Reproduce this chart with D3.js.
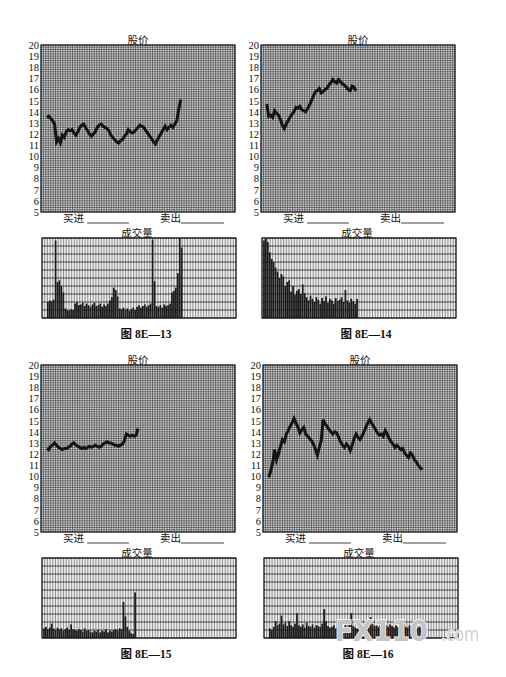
<!DOCTYPE html>
<html>
<head>
<meta charset="utf-8">
<script src="https://cdn.jsdelivr.net/npm/d3@7"></script>
<style>
  body { margin: 0; background: #fff; }
  svg { display: block; }
  .cn { font-family: "Noto Sans CJK SC", sans-serif; font-size: 10.5px; fill: #111; }
  .num { font-family: "Liberation Serif", "DejaVu Serif", serif; font-size: 10.5px; fill: #111; }
  .cap { font-family: "Liberation Serif", "Noto Sans CJK SC", serif; font-size: 11.5px; font-weight: bold; fill: #111; }
</style>
</head>
<body>
<svg id="page" width="506" height="677"></svg>
<script>
// ---- data ----
const figureNames = ["图 8E—13", "图 8E—14", "图 8E—15", "图 8E—16"];
const priceTitle = "股价";
const volumeTitle = "成交量";
const buyLabel = "买进";
const sellLabel = "卖出";
const priceTicks = [5, 6, 7, 8, 9, 10, 11, 12, 13, 14, 15, 16, 17, 18, 19, 20];

// day index where each series begins (the x axis runs 0..100 days across the box)
const priceStart13 = 3;
const price13 = [13.5, 13.6, 13.4, 13.2, 12.9, 11.3, 11.6, 11.2, 11.9, 11.7, 12.2, 12.4, 12.3, 12.4, 12.1,
  11.9, 12.2, 12.6, 12.8, 12.9, 12.6, 12.3, 12.0, 11.8, 12.0, 12.2, 12.6, 12.8, 12.9, 12.7,
  12.6, 12.5, 12.3, 11.9, 11.7, 11.5, 11.3, 11.2, 11.4, 11.5, 11.8, 12.0, 12.4, 12.2, 12.1,
  12.2, 12.4, 12.6, 12.8, 12.7, 12.6, 12.3, 12.1, 11.8, 11.6, 11.3, 11.1, 11.5, 11.8, 12.1,
  12.4, 12.7, 12.4, 12.6, 12.8, 12.6, 12.9, 13.2, 14.2, 15.1];
const volStart13 = 3;
const vol13 = [20, 22, 21, 23, 97, 45, 47, 40, 32, 12, 10, 9, 11, 10, 18,
  20, 16, 17, 19, 15, 18, 16, 14, 17, 19, 15, 16, 18, 14, 17,
  15, 18, 22, 26, 38, 35, 27, 12, 11, 13, 10, 12, 9, 11, 13,
  10, 14, 16, 13, 15, 17, 14, 16, 18, 98, 46, 15, 14, 16, 13,
  17, 15, 16, 18, 32, 34, 38, 56, 100, 88];

const priceStart14 = 3;
const price14 = [14.7, 13.6, 13.7, 13.5, 14.1, 13.9, 13.7, 13.3, 12.8, 12.5, 12.9, 13.2, 13.5, 13.8, 14.0,
  14.4, 14.3, 14.5, 14.2, 14.1, 14.0, 14.3, 14.6, 15.0, 15.4, 15.8, 15.9, 16.1, 15.7, 15.8,
  16.0, 16.1, 16.4, 16.6, 16.9, 16.7, 16.6, 16.9, 16.7, 16.5, 16.4, 16.2, 16.0, 15.9, 16.3,
  16.2, 15.9];
const volStart14 = 1;
const vol14 = [97, 99, 95, 82, 74, 70, 63, 58, 50, 55, 52, 40, 45, 47, 33,
  40, 29, 34, 36, 30, 42, 31, 26, 22, 28, 24, 20, 26, 23, 18,
  25, 21, 27, 19, 24, 22, 18, 25, 21, 23, 26, 20, 35, 22, 19,
  24, 21, 18, 24];

const priceStart15 = 3;
const price15 = [12.5, 12.4, 12.7, 12.8, 13.0, 12.8, 12.6, 12.5, 12.4, 12.5, 12.5, 12.6, 12.7, 12.9, 13.0,
  12.8, 12.7, 12.6, 12.5, 12.6, 12.5, 12.6, 12.7, 12.6, 12.7, 12.8, 12.7, 12.6, 12.7, 12.9,
  13.0, 13.1, 13.0, 13.0, 12.9, 12.8, 12.8, 12.7, 12.8, 12.9, 13.2, 13.8, 13.7, 13.6, 13.7,
  13.6, 13.7, 14.3];
const volStart15 = 1;
const vol15 = [12, 14, 11, 13, 18, 12, 10, 13, 11, 12, 9, 11, 13, 10, 17,
  11, 10, 9, 11, 10, 8, 12, 9, 10, 8, 7, 9, 8, 10, 7,
  9, 8, 11, 7, 9, 8, 10, 11, 9, 12, 11, 45, 27, 14, 9,
  6, 5, 57];

const priceStart16 = 3;
const price16 = [9.9, 10.5, 11.2, 12.4, 11.5, 12.0, 12.7, 13.3, 13.1, 13.8, 14.1, 14.5, 14.8, 15.2, 14.8,
  14.4, 13.9, 14.2, 14.4, 13.8, 13.6, 13.4, 13.2, 12.9, 12.4, 11.9, 12.6, 13.2, 15.1, 14.7,
  14.5, 14.2, 14.0, 13.8, 14.0, 13.9, 13.5, 13.1, 12.8, 12.6, 12.9, 12.7, 12.3, 12.8, 13.4,
  13.8, 13.5, 13.3, 13.6, 14.0, 14.4, 14.8, 15.1, 14.8, 14.5, 14.2, 13.9, 13.7, 13.8, 13.6,
  14.1, 13.8, 13.4, 13.1, 12.9, 12.6, 12.8, 12.6, 12.4, 12.5, 12.1, 11.9, 11.7, 12.1, 11.9,
  11.5, 11.3, 11.0, 10.8, 10.6];
const volStart16 = 3;
const vol16 = [12, 10, 14, 21, 16, 18, 28, 17, 19, 15, 21, 16, 14, 18, 31,
  16, 14, 17, 13, 19, 15, 14, 17, 13, 16, 15, 14, 18, 36, 21,
  15, 13, 14, 16, 12, 15, 13, 14, 12, 16, 14, 18, 31, 15, 13,
  12, 14, 13, 11, 15, 17, 19, 26, 17, 15, 16, 14, 18, 15, 13,
  16, 14, 17, 15, 13, 16, 14, 12, 15, 17, 14, 13, 16, 14, 15,
  13, 12, 14, 13, 11];

const panels = [
  { name: figureNames[0], price: price13, priceStart: priceStart13, vol: vol13, volStart: volStart13 },
  { name: figureNames[1], price: price14, priceStart: priceStart14, vol: vol14, volStart: volStart14 },
  { name: figureNames[2], price: price15, priceStart: priceStart15, vol: vol15, volStart: volStart15 },
  { name: figureNames[3], price: price16, priceStart: priceStart16, vol: vol16, volStart: volStart16 }
];

// ---- layout ----
const boxes = [{ x: 41, y: 45 }, { x: 261, y: 45 }, { x: 41, y: 365 }, { x: 263, y: 365 }];
const W = 194, H = 167, volGap = 193, volH = 80;

const svg = d3.select("#page");

panels.forEach((p, i) => {
  const b = boxes[i];
  const g = svg.append("g");

  // price box
  const x = d3.scaleLinear().domain([0, 100]).range([b.x, b.x + W]);
  const y = d3.scaleLinear().domain([5, 20]).range([b.y + H, b.y]);

  g.append("rect").attr("x", b.x).attr("y", b.y).attr("width", W).attr("height", H)
    .attr("fill", "#dcdcdc");

  const grid = g.append("g").attr("stroke", "#333").attr("stroke-width", 0.6);
  grid.selectAll("line.h").data(d3.range(5, 20.001, 0.2)).enter().append("line")
    .attr("x1", b.x).attr("x2", b.x + W).attr("y1", d => y(d)).attr("y2", d => y(d));
  grid.selectAll("line.v").data(d3.range(0, 100.001, 100 / 80)).enter().append("line")
    .attr("y1", b.y).attr("y2", b.y + H).attr("x1", d => x(d)).attr("x2", d => x(d));

  g.append("rect").attr("x", b.x).attr("y", b.y).attr("width", W).attr("height", H)
    .attr("fill", "none").attr("stroke", "#111").attr("stroke-width", 1.1);

  const axis = d3.axisLeft(y).tickValues(priceTicks).tickSize(0).tickPadding(2).tickFormat(d3.format("d"));
  const ax = g.append("g").attr("transform", `translate(${b.x},0)`).call(axis);
  ax.select(".domain").remove();
  ax.selectAll("text").attr("class", "num").attr("font-family", null).attr("font-size", null);

  const line = d3.line().x((d, k) => x(p.priceStart + k)).y(d => y(d));
  g.append("path").attr("d", line(p.price)).attr("fill", "none")
    .attr("stroke", "#141414").attr("stroke-width", 3).attr("stroke-linejoin", "miter");

  g.append("text").attr("class", "cn").attr("x", b.x + 97).attr("y", b.y - 1.5)
    .attr("text-anchor", "middle").text(priceTitle);

  // buy / sell blanks
  const by = b.y + H + 10;
  g.append("text").attr("class", "cn").attr("x", b.x + 22).attr("y", by).text(buyLabel);
  g.append("text").attr("class", "cn").attr("x", b.x + 119).attr("y", by).text(sellLabel);
  g.append("line").attr("x1", b.x + 46).attr("x2", b.x + 88).attr("y1", by + 1).attr("y2", by + 1)
    .attr("stroke", "#111").attr("stroke-width", 0.8);
  g.append("line").attr("x1", b.x + 140).attr("x2", b.x + 183).attr("y1", by + 1).attr("y2", by + 1)
    .attr("stroke", "#111").attr("stroke-width", 0.8);

  // volume box
  const vx0 = b.x + 1, vy0 = b.y + volGap;
  const vx = d3.scaleLinear().domain([0, 100]).range([vx0, vx0 + W]);
  const vy = d3.scaleLinear().domain([0, 100]).range([vy0 + volH, vy0]);

  g.append("rect").attr("x", vx0).attr("y", vy0).attr("width", W).attr("height", volH)
    .attr("fill", "#ededed");
  const vgrid = g.append("g");
  vgrid.selectAll("line.v").data(d3.range(0, 100.001, 100 / 72)).enter().append("line")
    .attr("y1", vy0).attr("y2", vy0 + volH).attr("x1", d => vx(d)).attr("x2", d => vx(d))
    .attr("stroke", "#666").attr("stroke-width", 0.7);
  vgrid.selectAll("line.h").data(d3.range(0, 100.001, 10)).enter().append("line")
    .attr("x1", vx0).attr("x2", vx0 + W).attr("y1", d => vy(d)).attr("y2", d => vy(d))
    .attr("stroke", "#222").attr("stroke-width", 0.8);

  const bw = (vx(1) - vx(0)) * 0.9;
  g.append("g").selectAll("rect").data(p.vol).enter().append("rect")
    .attr("x", (d, k) => vx(p.volStart + k) - bw / 2)
    .attr("width", bw)
    .attr("y", d => vy(d))
    .attr("height", d => vy(0) - vy(d))
    .attr("fill", "#1c1c1c");

  g.append("rect").attr("x", vx0).attr("y", vy0).attr("width", W).attr("height", volH)
    .attr("fill", "none").attr("stroke", "#111").attr("stroke-width", 1.1);

  g.append("text").attr("class", "cn").attr("x", vx0 + 95).attr("y", vy0 - 1.5)
    .attr("text-anchor", "middle").text(volumeTitle);

  g.append("text").attr("class", "cap").attr("x", b.x + 105).attr("y", vy0 + 100)
    .attr("text-anchor", "middle").text(p.name);
});

// site watermark over the last figure
const wm = svg.append("g").attr("font-family", "DejaVu Sans, sans-serif").attr("font-weight", "bold")
  .attr("stroke", "#fff").attr("stroke-width", 1.5).attr("paint-order", "stroke");
wm.append("text").attr("x", 335).attr("y", 641).attr("font-size", 29).attr("fill", "#c4c4c4")
  .attr("textLength", 93).attr("lengthAdjust", "spacingAndGlyphs").text("FX110");
wm.append("text").attr("x", 441).attr("y", 641).attr("font-size", 19).attr("font-weight", "normal")
  .attr("fill", "#d2d2d2").attr("textLength", 38).attr("lengthAdjust", "spacingAndGlyphs").text(".com");
</script>
</body>
</html>
